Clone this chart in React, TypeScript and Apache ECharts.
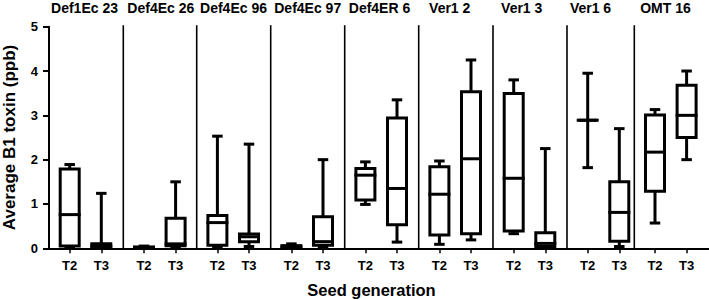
import React, { useEffect, useRef } from "react";
import * as echarts from "echarts";

// ---- data ----
const panels = [
  "Def1Ec 23",
  "Def4Ec 26",
  "Def4Ec 96",
  "Def4Ec 97",
  "Def4ER 6",
  "Ver1 2",
  "Ver1 3",
  "Ver1 6",
  "OMT 16",
];
const generations = ["T2", "T3"];
// [min, Q1, median, Q3, max]  (ppb)
const t2Stats = [
  [0.02, 0.05, 0.76, 1.79, 1.89],
  [0, 0.01, 0.02, 0.03, 0.05],
  [0.02, 0.07, 0.58, 0.74, 2.53],
  [0, 0.01, 0.03, 0.06, 0.1],
  [0.99, 1.09, 1.65, 1.8, 1.95],
  [0.09, 0.3, 1.22, 1.84, 1.97],
  [0.33, 0.39, 1.58, 3.49, 3.8],
  [1.82, 2.89, 2.89, 2.89, 3.95],
  [0.57, 1.29, 2.17, 3.01, 3.13],
];
const t3Stats = [
  [0, 0.02, 0.05, 0.1, 1.24],
  [0.03, 0.06, 0.1, 0.68, 1.5],
  [0.04, 0.15, 0.26, 0.32, 2.35],
  [0.02, 0.07, 0.15, 0.71, 2.0],
  [0.14, 0.53, 1.35, 2.94, 3.35],
  [0.19, 0.33, 2.02, 3.53, 4.25],
  [0, 0.04, 0.11, 0.35, 2.25],
  [0.04, 0.16, 0.81, 1.5, 2.7],
  [2.0, 2.5, 3.0, 3.68, 4.0],
];
const yTicks = [0, 1, 2, 3, 4, 5];

// ---- layout (x axis in pixel-like units across the plot width) ----
const X_MAX = 660;
const panelEdges = [0, 74.3, 147.7, 221.7, 295.7, 369.7, 444, 518, 585.3, 660];
const boxOffsets = [20.7, 52.3];
const titleCenters = [35.5, 111.8, 184.5, 258.7, 330.5, 400.7, 472.7, 541.5, 616.5];
const FONT = "'Liberation Sans', Arial, Helvetica, sans-serif";

function nearestIndex(list: number[], v: number) {
  let best = 0;
  let bd = Infinity;
  list.forEach((c, i) => {
    const d = Math.abs(c - v);
    if (d < bd) {
      bd = d;
      best = i;
    }
  });
  return best;
}

export default function App() {
  const ref = useRef<HTMLDivElement>(null);

  useEffect(() => {
    if (!ref.current) return;
    const chart = echarts.init(ref.current, undefined, { renderer: "svg" });

    const boxPositions: number[] = [];
    const boxGen: string[] = [];
    const seriesData: number[][] = [];
    panels.forEach((_, i) => {
      [t2Stats[i], t3Stats[i]].forEach((s, g) => {
        const x = panelEdges[i] + boxOffsets[g];
        boxPositions.push(x);
        boxGen.push(generations[g]);
        seriesData.push([x, ...s]);
      });
    });
    const yMinV = yTicks[0];
    const yMaxV = yTicks[yTicks.length - 1];
    const separatorData = panelEdges.slice(1, -1).map((x) => [x, yMinV, yMaxV]);

    const option: any = {
      animation: false,
      backgroundColor: "#fff",
      grid: {
        left: 49,
        right: 0,
        top: 26.7,
        bottom: 51.7,
        containLabel: false,
        outerBoundsMode: "none",
      },
      xAxis: [
        {
          type: "value",
          position: "bottom",
          min: 0,
          max: X_MAX,
          splitLine: { show: false },
          axisLine: { show: true, onZero: false, lineStyle: { color: "#000", width: 2 } },
          axisTick: {
            show: true,
            length: 5,
            customValues: boxPositions,
            lineStyle: { color: "#000", width: 1.5 },
          },
          axisLabel: {
            show: true,
            customValues: boxPositions,
            formatter: (v: number) => boxGen[nearestIndex(boxPositions, v)],
            color: "#000",
            fontWeight: "bold",
            fontSize: 13,
            fontFamily: FONT,
            margin: 11,
          },
          name: "Seed generation",
          nameLocation: "middle",
          nameGap: 33,
          nameTextStyle: {
            color: "#000",
            fontWeight: "bold",
            fontSize: 16.5,
            fontFamily: FONT,
            padding: [0, 15, 0, 0],
          },
        },
        {
          type: "value",
          position: "top",
          min: 0,
          max: X_MAX,
          splitLine: { show: false },
          axisLine: { show: false },
          axisTick: { show: false },
          axisLabel: {
            show: true,
            customValues: titleCenters,
            formatter: (v: number) => panels[nearestIndex(titleCenters, v)],
            color: "#000",
            fontWeight: "bold",
            fontSize: 14,
            fontFamily: FONT,
            margin: 12,
          },
        },
      ],
      yAxis: {
        type: "value",
        min: yMinV,
        max: yMaxV,
        interval: 1,
        splitLine: { show: false },
        axisLine: { show: true, lineStyle: { color: "#000", width: 2 } },
        axisTick: { show: true, length: 6, lineStyle: { color: "#000", width: 2 } },
        axisLabel: {
          color: "#000",
          fontWeight: "bold",
          fontSize: 13,
          fontFamily: FONT,
          margin: 11,
        },
        name: "Average B1 toxin (ppb)",
        nameLocation: "middle",
        nameRotate: 90,
        nameGap: 31,
        nameTextStyle: {
          color: "#000",
          fontWeight: "bold",
          fontSize: 17,
          fontFamily: FONT,
        },
      },
      series: [
        {
          type: "custom",
          name: "separators",
          xAxisIndex: 0,
          yAxisIndex: 0,
          clip: false,
          silent: true,
          encode: { x: 0, y: [1, 2] },
          data: separatorData,
          renderItem: (_params: any, api: any) => {
            const x = api.value(0);
            const p0 = api.coord([x, api.value(1)]);
            const p1 = api.coord([x, api.value(2)]);
            return {
              type: "line",
              shape: { x1: p0[0], y1: p0[1], x2: p1[0], y2: p1[1] - 1.5 },
              style: { stroke: "#000", lineWidth: 1.6 },
            };
          },
        },
        {
          type: "custom",
          name: "B1 toxin",
          xAxisIndex: 0,
          yAxisIndex: 0,
          clip: false,
          encode: { x: 0, y: [1, 2, 3, 4, 5] },
          data: seriesData,
          renderItem: (_params: any, api: any) => {
            const x = api.value(0);
            const pt = (k: number) => api.coord([x, api.value(k)]);
            const [cx, yMin] = pt(1);
            const yQ1 = pt(2)[1];
            const yMed = pt(3)[1];
            const yQ3 = pt(4)[1];
            const yMax = pt(5)[1];
            const halfBox = 9.5;
            const halfCap = 5.25;
            const halfMed = 11;
            const st = { stroke: "#000", lineWidth: 3, fill: null };
            return {
              type: "group",
              children: [
                { type: "line", shape: { x1: cx, y1: yMin, x2: cx, y2: yMax }, style: st },
                {
                  type: "rect",
                  shape: { x: cx - halfBox, y: yQ3, width: halfBox * 2, height: yQ1 - yQ3 },
                  style: { fill: "#fff", stroke: "#000", lineWidth: 3 },
                },
                { type: "line", shape: { x1: cx - halfMed, y1: yMed, x2: cx + halfMed, y2: yMed }, style: st },
                { type: "line", shape: { x1: cx - halfCap, y1: yMax, x2: cx + halfCap, y2: yMax }, style: st },
                { type: "line", shape: { x1: cx - halfCap, y1: yMin, x2: cx + halfCap, y2: yMin }, style: st },
              ],
            };
          },
        },
      ],
    };

    chart.setOption(option);
    return () => chart.dispose();
  }, []);

  return (
    <div
      ref={ref}
      style={{ position: "absolute", left: 0, top: 0, width: 709, height: 300 }}
    />
  );
}
